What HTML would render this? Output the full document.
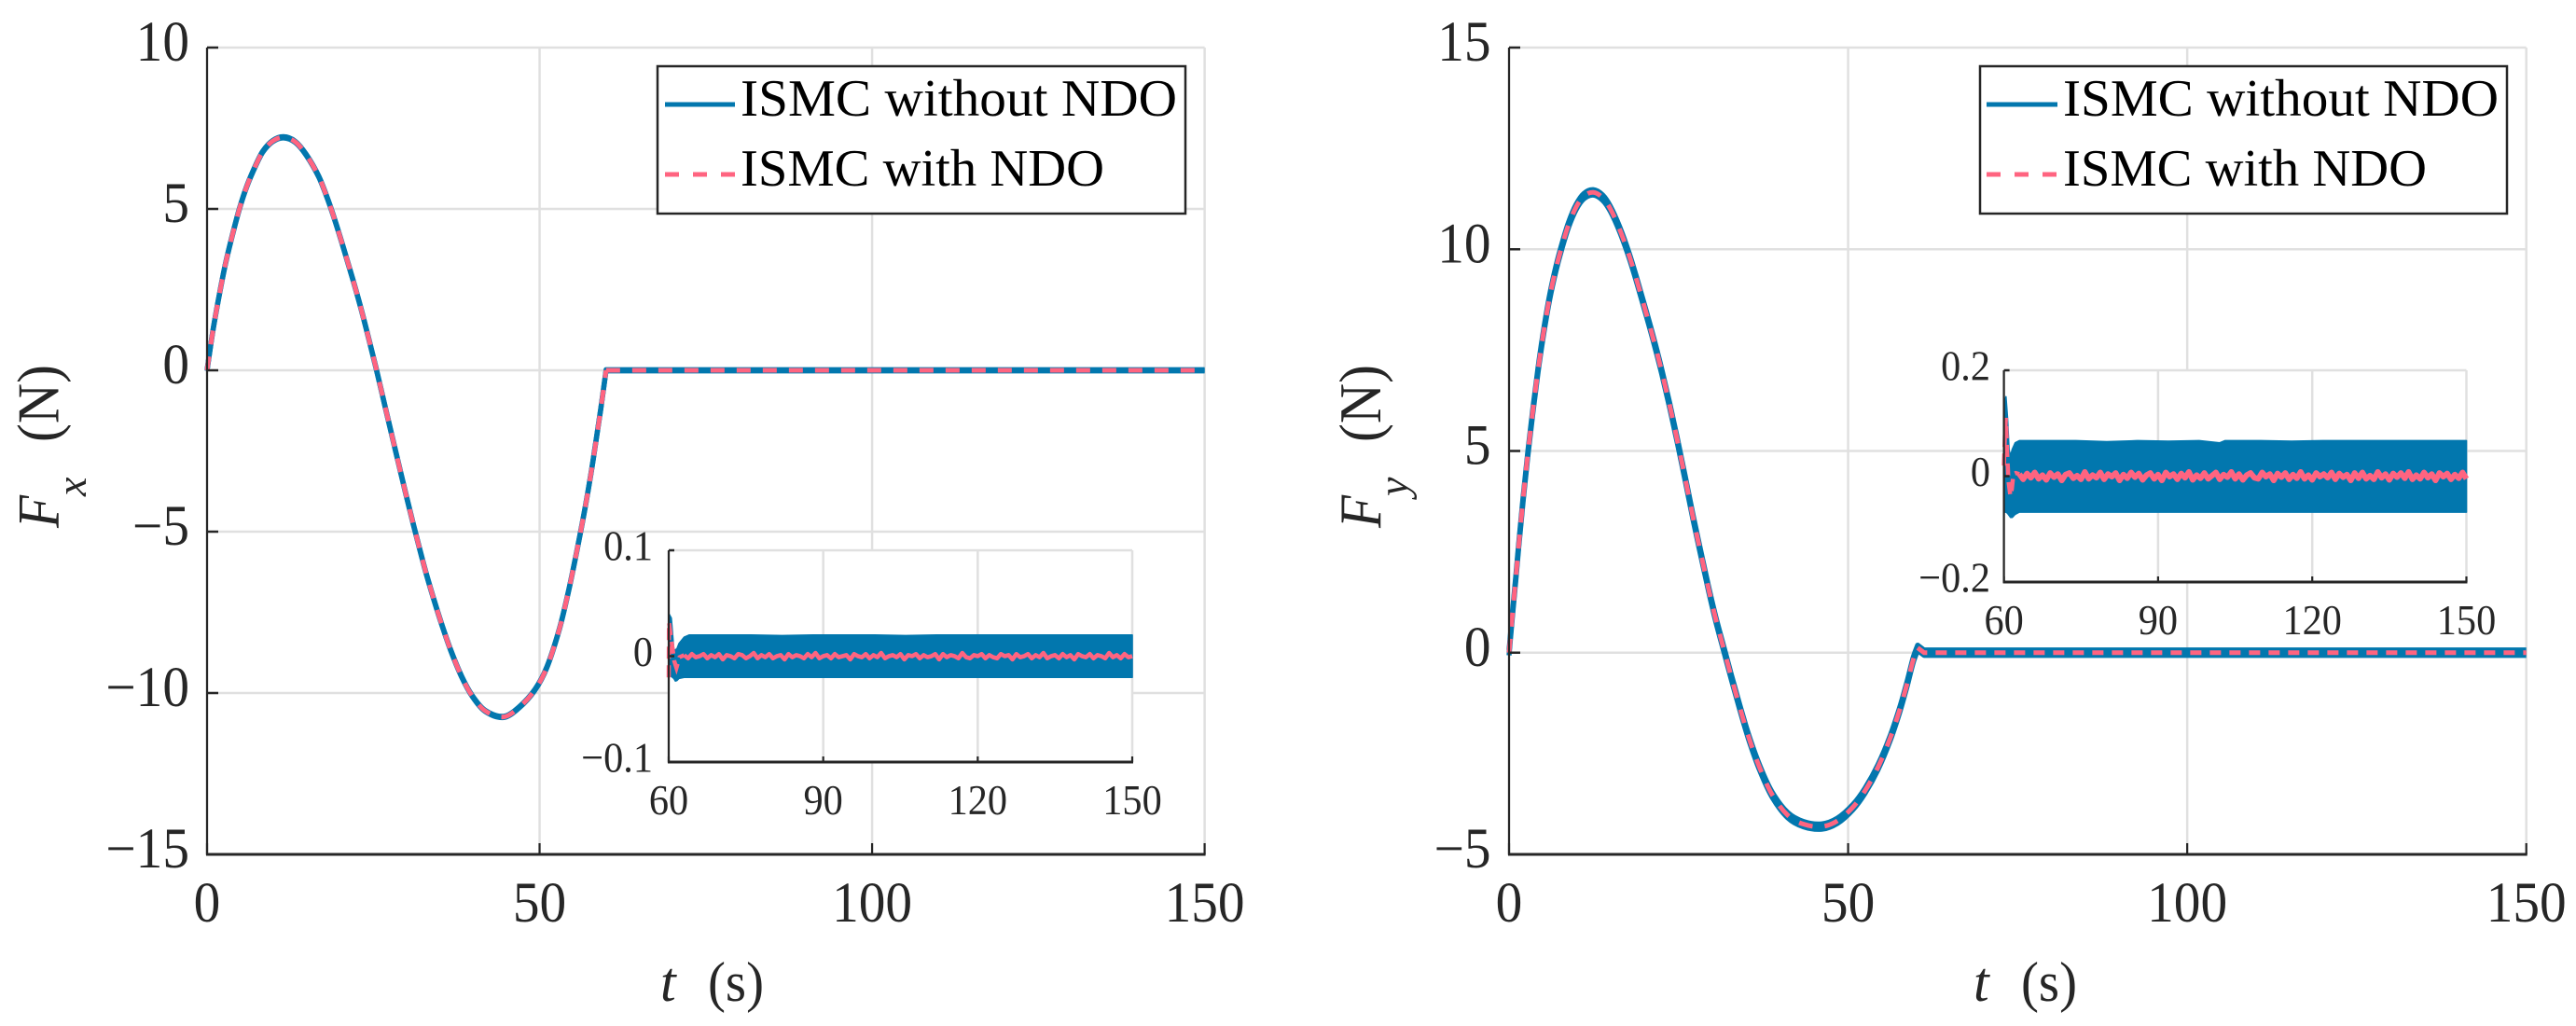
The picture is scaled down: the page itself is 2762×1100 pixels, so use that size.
<!DOCTYPE html>
<html lang="en">
<head>
<meta charset="utf-8">
<title>ISMC force comparison</title>
<style>
html,body{margin:0;padding:0;background:#fff;}
svg{display:block;font-family:"Liberation Serif",serif;}
</style>
</head>
<body>
<svg id="figure" xmlns="http://www.w3.org/2000/svg" width="2762" height="1100" viewBox="0 0 2762 1100">
  <rect x="0" y="0" width="2762" height="1100" fill="#ffffff"/>
  <g id="fx-plot"></g>
  <g id="fy-plot"></g>

  <g>
    <rect x="705" y="71" width="566" height="158" fill="#fff" stroke="#262626" stroke-width="2.5"/>
    <line x1="713" y1="112" x2="788" y2="112" stroke="#0277ae" stroke-width="5"/>
    <line x1="713" y1="187" x2="788" y2="187" stroke="#ff6480" stroke-width="5" stroke-dasharray="15 15"/>
    <text x="794" y="124" font-size="56" fill="#000" textLength="468" lengthAdjust="spacingAndGlyphs">ISMC without NDO</text>
    <text x="794" y="199" font-size="56" fill="#000" textLength="390" lengthAdjust="spacingAndGlyphs">ISMC with NDO</text>
  </g>
  <g>
    <rect x="2123" y="71" width="565" height="158" fill="#fff" stroke="#262626" stroke-width="2.5"/>
    <line x1="2130" y1="112" x2="2206" y2="112" stroke="#0277ae" stroke-width="5"/>
    <line x1="2130" y1="187" x2="2206" y2="187" stroke="#ff6480" stroke-width="5" stroke-dasharray="15 15"/>
    <text x="2212" y="124" font-size="56" fill="#000" textLength="467" lengthAdjust="spacingAndGlyphs">ISMC without NDO</text>
    <text x="2212" y="199" font-size="56" fill="#000" textLength="390" lengthAdjust="spacingAndGlyphs">ISMC with NDO</text>
  </g>

  <g fill="#262626" font-size="60">
    <text x="708" y="1073" font-style="italic">t</text>
    <text x="759" y="1073" textLength="60" lengthAdjust="spacingAndGlyphs">(s)</text>
  </g>
  <g fill="#262626" font-size="60">
    <text x="2116" y="1073" font-style="italic">t</text>
    <text x="2167" y="1073" textLength="60" lengthAdjust="spacingAndGlyphs">(s)</text>
  </g>
  <g fill="#262626">
    <text transform="translate(62.7,566) rotate(-90)" font-size="64" font-style="italic" textLength="35" lengthAdjust="spacingAndGlyphs">F</text>
    <text transform="translate(92,532) rotate(-90)" font-size="46" font-style="italic">x</text>
    <text transform="translate(62.7,474) rotate(-90)" font-size="64" textLength="83" lengthAdjust="spacingAndGlyphs">(N)</text>
  </g>
  <g fill="#262626">
    <text transform="translate(1480.2,566) rotate(-90)" font-size="64" font-style="italic" textLength="35" lengthAdjust="spacingAndGlyphs">F</text>
    <text transform="translate(1509.5,532) rotate(-90)" font-size="46" font-style="italic">y</text>
    <text transform="translate(1480.2,474) rotate(-90)" font-size="64" textLength="83" lengthAdjust="spacingAndGlyphs">(N)</text>
  </g>
</svg>

<script>
// ---- shared tick labels ----
const mainXTicks = [0, 50, 100, 150];
const insetXTicks = [60, 90, 120, 150];
const fxYTicks = [10, 5, 0, -5, -10, -15];
const fyYTicks = [15, 10, 5, 0, -5];
const fxInsetYTicks = [0.1, 0, -0.1];
const fyInsetYTicks = [0.2, 0, -0.2];

// ---- Fx main series (time in s, force in N) ----
const fxTime = [0,0.9,1.9,2.75,3.7,4.86,6.03,7.34,8.4,9.86,11.5,13.25,14.9,16.8,18.2,19.3,20.5,21.9,23.1,24.25,25.4,26.8,28,28.9,29.9,31,32,32.9,34.1,35.25,36.65,38.3,39.9,41.8,44.6,46.9,49.3,51.1,53,54.4,55.7,56.9,58,59.2,60,150];
const fxForce = [0,1.25,2.4,3.28,4.1,5,5.73,6.36,6.78,7.1,7.22,7.08,6.68,6,5.27,4.6,3.8,2.83,1.95,1.03,0.08,-1.15,-2.2,-2.98,-3.84,-4.76,-5.56,-6.26,-7.1,-7.85,-8.68,-9.5,-10.1,-10.55,-10.74,-10.45,-9.9,-9.2,-8,-6.8,-5.5,-4.2,-2.85,-1.2,0,0];
const fxRipple = [0.02];
const fxSmoothEnd = [60];

// ---- Fy main series ----
const fyTime = [0,0.5,1,1.42,2.1,2.8,3.5,4.27,5.1,6,6.93,7.84,8.76,9.9,11.05,12.43,13.8,14.95,16.3,17.7,18.85,20.2,21.4,22.5,23.7,24.8,26,27.1,28.25,29.4,30.5,31.7,32.8,34,35.35,37,38.8,41.1,43.4,46.1,48.4,50.7,52.5,54.4,56.2,57.6,58.7,59.6,60.25,61.2,150];
const fyForce = [0,0.95,1.85,2.65,3.85,4.97,5.98,7,7.95,8.82,9.53,10.1,10.6,11.05,11.32,11.41,11.28,11,10.5,9.85,9.22,8.43,7.7,6.98,6.12,5.27,4.3,3.38,2.48,1.6,0.82,0.07,-0.62,-1.34,-2.1,-2.87,-3.52,-4.03,-4.25,-4.31,-4.17,-3.83,-3.42,-2.84,-2.12,-1.42,-0.77,-0.18,0.12,0,0];
const fyRipple = [0.067];
const fySmoothEnd = [60.25];

// ---- Fx inset: envelope of the ripple on ISMC without NDO ----
const fxBandTime = [60,60.05,60.5,61,61.3,61.6,62,63,64,70,76,82,88,94,100,106,112,118,124,130,136,142,150];
const fxBandUpper = [-0.018,0.04,0.036,0.006,0.006,0.007,0.012,0.018,0.02,0.02,0.02,0.0195,0.02,0.02,0.02,0.0195,0.02,0.02,0.02,0.02,0.02,0.02,0.02];
const fxBandLower = [-0.019,-0.019,-0.019,-0.021,-0.0235,-0.023,-0.021,-0.02,-0.02,-0.02,-0.02,-0.02,-0.02,-0.02,-0.02,-0.02,-0.02,-0.02,-0.02,-0.02,-0.02,-0.02,-0.02];

// ---- Fx inset: ISMC with NDO transient then residual (milli-newton) ----
const fxPinkTime = [60,60.05,60.6,61.1,61.5,61.8,62.1,63];
const fxPinkForce = [-0.02,0.032,0.012,-0.005,-0.011,-0.006,-0.001,0.001];
const fxResidualStart = [63];
const fxResidualStep = [0.75];
const fxResidual = [1,-2,2,-1,0,2,-2,1,-1,2,-3,1,0,-2,2,1,-2,0,3,-2,1,-1,2,-2,0,1,-3,2,-1,1,0,-2,2,-1,3,-2,0,1,-2,2,-1,0,1,-3,2,0,-1,2,-2,1,-1,3,-2,0,1,-1,2,-3,1,0,2,-2,1,-1,0,2,-3,2,-1,1,0,-2,3,-1,-2,1,0,2,-2,1,-1,-2,2,0,1,-3,2,-1,0,2,-2,1,-1,3,-2,0,1,-2,2,-1,1,-3,2,0,-1,2,-2,1,0,-2,3,-1,1,-2,2,-1,0,2,-2,1,-1,2];

// ---- Fy inset ----
const fyBandTime = [60,60.1,60.4,60.7,61,61.3,61.6,62.2,63,68,74,80,86,92,98,102,103,104,110,116,122,128,134,140,146,150];
const fyBandUpper = [0.06,0.14,0.15,0.11,0.05,0.038,0.05,0.063,0.067,0.067,0.067,0.065,0.067,0.066,0.067,0.063,0.067,0.067,0.067,0.066,0.067,0.067,0.067,0.067,0.067,0.067];
const fyBandLower = [-0.068,-0.068,-0.068,-0.07,-0.074,-0.078,-0.078,-0.072,-0.068,-0.068,-0.068,-0.068,-0.068,-0.068,-0.068,-0.068,-0.068,-0.068,-0.068,-0.068,-0.068,-0.068,-0.068,-0.068,-0.068,-0.068];
const fyPinkTime = [60,60.2,60.4,60.6,60.9,61.25,61.55,61.85,62.3,63];
const fyPinkForce = [0.02,0.08,0.11,0.05,-0.01,-0.037,-0.024,0.004,0.006,0.004];
const fyResidualStart = [63];
const fyResidualStep = [0.75];
const fyResidual = [4,-6,5,-3,7,-5,2,-7,6,-2,4,-8,3,6,-4,1,-6,8,-5,2,-3,7,-6,4,-1,6,-8,3,-4,7,-2,5,-7,2,6,-5,3,-8,7,-1,4,-6,5,-3,8,-7,2,-4,6,-5,1,7,-6,3,-2,8,-5,4,-7,2,6,-3,-5,7,-1,4,-8,5,-2,6,-6,3,-4,8,-5,2,-7,6,-1,4,-3,7,-6,5,-2,3,-8,6,-4,7,-5,1,-6,8,-3,4,-7,5,-2,6,-4,8,-6,2,-5,7,-3,4,-8,6,-1,5,-6,3,-4,7,-5,4,-6,3,-2,5];

// ---- drawing helpers ----
const NS = 'http://www.w3.org/2000/svg';
const BLUE = '#0277ae', PINK = '#ff6480', INK = '#262626', GRID = '#e0e0e0';

function mk(tag, attrs, parent) {
  const el = document.createElementNS(NS, tag);
  for (const k in attrs) el.setAttribute(k, attrs[k]);
  parent.appendChild(el);
  return el;
}
function linear(d0, d1, r0, r1) {
  return function (v) { return r0 + (v - d0) / (d1 - d0) * (r1 - r0); };
}
function linePath(ts, vs, sx, sy, offset) {
  let d = '';
  for (let i = 0; i < ts.length; i++) {
    d += (i ? 'L' : 'M') + sx(ts[i]).toFixed(2) + ' ' + sy(vs[i] + offset).toFixed(2);
  }
  return d;
}
// Hermite spline through the read points, with tangents taken from neighbours
function smoothPath(ts, vs, sx, sy, offset) {
  const n = ts.length;
  const m = ts.map(function (_, i) {
    const a = Math.max(i - 1, 0), b = Math.min(i + 1, n - 1);
    return (vs[b] - vs[a]) / (ts[b] - ts[a]);
  });
  let d = 'M' + sx(ts[0]).toFixed(2) + ' ' + sy(vs[0] + offset).toFixed(2);
  for (let i = 0; i < n - 1; i++) {
    const dt = ts[i + 1] - ts[i];
    d += 'C' + sx(ts[i] + dt / 3).toFixed(2) + ' ' + sy(vs[i] + m[i] * dt / 3 + offset).toFixed(2) +
         ' ' + sx(ts[i + 1] - dt / 3).toFixed(2) + ' ' + sy(vs[i + 1] - m[i + 1] * dt / 3 + offset).toFixed(2) +
         ' ' + sx(ts[i + 1]).toFixed(2) + ' ' + sy(vs[i + 1] + offset).toFixed(2);
  }
  return d;
}
function fmtTick(v) {
  return String(v).replace('-', '\u2212');
}

function drawFrame(g, prefix, box, xTicks, yTicks, sx, sy) {
  xTicks.forEach(function (t) {
    const gl = mk('line', {x1: sx(t), x2: sx(t), y1: box.top, y2: box.bottom, stroke: GRID, 'stroke-width': 2.5}, g);
    
    
  });
  yTicks.forEach(function (v) {
    const gl = mk('line', {x1: box.left, x2: box.right, y1: sy(v), y2: sy(v), stroke: GRID, 'stroke-width': 2.5}, g);
    
    
  });
}
function drawAxes(g, prefix, box, xTicks, yTicks, sx, sy, o) {
  const yAxis = mk('line', {x1: box.left, x2: box.left, y1: box.top, y2: box.bottom + 1, stroke: INK, 'stroke-width': 2.2}, g);
  
  
  const xAxis = mk('line', {x1: box.left - 1, x2: box.right + 1, y1: box.bottom, y2: box.bottom, stroke: INK, 'stroke-width': 3}, g);
  
  
  xTicks.forEach(function (t) {
    const tick = mk('line', {x1: sx(t), x2: sx(t), y1: box.bottom, y2: box.bottom - o.tick, stroke: INK, 'stroke-width': 2.2}, g);
    
    
    const label = mk('text', {transform: 'translate(' + sx(t) + ',' + (box.bottom + o.xLabelGap) + ') scale(' + o.squeeze + ',1)', 'text-anchor': 'middle', 'font-size': o.font, fill: INK}, g);
    label.textContent = fmtTick(t);
    
    
  });
  yTicks.forEach(function (v) {
    const tick = mk('line', {x1: box.left, x2: box.left + o.tick, y1: sy(v), y2: sy(v), stroke: INK, 'stroke-width': 2.5}, g);
    
    
    const label = mk('text', {transform: 'translate(' + o.yLabelX + ',' + (sy(v) + o.yLabelGap) + ') scale(' + o.squeeze + ',1)', 'text-anchor': 'end', 'font-size': o.font, fill: INK}, g);
    label.textContent = fmtTick(v);
    
    
  });
}

function drawMain(g, prefix, box, yMin, yMax, yTicks, ts, vs, ripple, smoothEnd, curveDash, flatDash, o) {
  const sx = linear(0, 150, box.left, box.right);
  const sy = linear(yMin, yMax, box.bottom, box.top);
  drawFrame(g, prefix, box, mainXTicks, yTicks, sx, sy);
  let split = 0;
  while (split < ts.length - 1 && ts[split] < smoothEnd) split++;
  const curveT = ts.slice(0, split + 1), curveV = vs.slice(0, split + 1);
  const flatT = ts.slice(split), flatV = vs.slice(split);
  [ripple, 0, -ripple].forEach(function (off) {
    const blue = mk('path', {d: smoothPath(curveT, curveV, sx, sy, off) + linePath(flatT, flatV, sx, sy, off).replace('M', 'L'), fill: 'none', stroke: BLUE, 'stroke-width': 5.4, 'stroke-linejoin': 'round'}, g);
    
    
  });
  const pinkA = mk('path', {d: smoothPath(curveT, curveV, sx, sy, 0), fill: 'none', stroke: PINK, 'stroke-width': 5, 'stroke-dasharray': curveDash}, g);
  
  
  const pinkB = mk('path', {d: linePath(flatT, flatV, sx, sy, 0), fill: 'none', stroke: PINK, 'stroke-width': 5, 'stroke-dasharray': flatDash}, g);
  
  
  drawAxes(g, prefix, box, mainXTicks, yTicks, sx, sy, o);
}

function drawInset(g, prefix, box, yLim, yTicks, bandT, bandU, bandL, pinkT, pinkV, resStart, resStep, res, resWidth, o) {
  const sx = linear(60, 150, box.left, box.right);
  const sy = linear(-yLim, yLim, box.bottom, box.top);
  const bg = mk('rect', {x: box.left, y: box.top, width: box.right - box.left, height: box.bottom - box.top, fill: '#fff'}, g);
  
  
  drawFrame(g, prefix, box, insetXTicks, yTicks, sx, sy);

  let d = '';
  for (let i = 0; i < bandT.length; i++) d += (i ? 'L' : 'M') + sx(bandT[i]).toFixed(2) + ' ' + sy(bandU[i]).toFixed(2);
  for (let i = bandT.length - 1; i >= 0; i--) d += 'L' + sx(bandT[i]).toFixed(2) + ' ' + sy(bandL[i]).toFixed(2);
  d += 'Z';
  const band = mk('path', {d: d, fill: BLUE, stroke: BLUE, 'stroke-width': 1.6, 'stroke-linejoin': 'round'}, g);
  
  

  const resT = [], resV = [];
  res.forEach(function (v, i) {
    const t = resStart[0] + i * resStep[0];
    if (t <= 150) { resT.push(t); resV.push(v / 1000); }
  });
  const settled = mk('path', {d: linePath(resT, resV, sx, sy, 0), fill: 'none', stroke: PINK, 'stroke-width': resWidth, 'stroke-linejoin': 'round'}, g);
  
  
  const trans = mk('path', {d: linePath(pinkT, pinkV, sx, sy, 0), fill: 'none', stroke: PINK, 'stroke-width': 4.5, 'stroke-dasharray': '13 7'}, g);
  
  

  drawAxes(g, prefix, box, insetXTicks, yTicks, sx, sy, o);
}

// ---- build ----
const fxG = document.getElementById('fx-plot');
const fyG = document.getElementById('fy-plot');
const mainStyleFx = {tick: 12, font: 61, squeeze: 0.94, xLabelGap: 72, yLabelX: 203, yLabelGap: 14};
const mainStyleFy = {tick: 12, font: 61, squeeze: 0.94, xLabelGap: 72, yLabelX: 1598.6, yLabelGap: 14};
const insetStyleFx = {tick: 6, font: 46, squeeze: 0.92, xLabelGap: 56, yLabelX: 700, yLabelGap: 10.5};
const insetStyleFy = {tick: 6, font: 46, squeeze: 0.92, xLabelGap: 56, yLabelX: 2134, yLabelGap: 10.5};

drawMain(fxG, 'fx', {left: 222, right: 1291.6, top: 51, bottom: 916}, -15, 10, fxYTicks, fxTime, fxForce, fxRipple[0], fxSmoothEnd[0], '15 13', '15 13', mainStyleFx);
drawInset(fxG, 'fx-inset', {left: 717, right: 1214, top: 590, bottom: 817}, 0.1, fxInsetYTicks, fxBandTime, fxBandUpper, fxBandLower, fxPinkTime, fxPinkForce, fxResidualStart, fxResidualStep, fxResidual, 4.6, insetStyleFx);

drawMain(fyG, 'fy', {left: 1618, right: 2708.7, top: 51, bottom: 916}, -5, 15, fyYTicks, fyTime, fyForce, fyRipple[0], fySmoothEnd[0], '15 13', '12 9', mainStyleFy);
drawInset(fyG, 'fy-inset', {left: 2148.6, right: 2644.5, top: 397, bottom: 624}, 0.2, fyInsetYTicks, fyBandTime, fyBandUpper, fyBandLower, fyPinkTime, fyPinkForce, fyResidualStart, fyResidualStep, fyResidual, 6, insetStyleFy);
</script>
</body>
</html>
